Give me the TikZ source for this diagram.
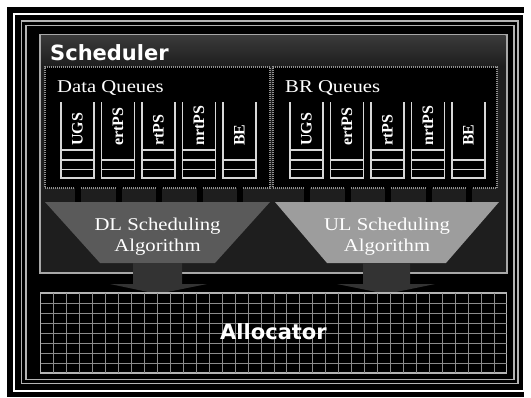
\documentclass[tikz,border=0pt]{standalone}
\usepackage{fontspec}
\setmainfont{Liberation Serif}
\newfontfamily\titlefont{DejaVu Sans}
\definecolor{qcol}{HTML}{D8D8D8}
\definecolor{framegray}{HTML}{B4B4B4}
\definecolor{schedborder}{HTML}{A8A8A8}
\definecolor{dotcol}{HTML}{909090}
\definecolor{dlfill}{HTML}{5A5A5A}
\definecolor{ulfill}{HTML}{9D9D9D}
\definecolor{arrowfill}{HTML}{333333}
\definecolor{gridcol}{HTML}{8C8C8C}
\definecolor{schedfill}{HTML}{1E1E1E}
\definecolor{titletop}{HTML}{3A3A3A}
\begin{document}
\begin{tikzpicture}[x=1pt,y=-1pt,
  qline/.style={draw=qcol, line width=1.8pt},
  dotbox/.style={draw=dotcol, line width=1.1pt, dash pattern=on 1pt off 1pt, fill=black},
  serift/.style={text=white, font=\fontsize{18}{21}\selectfont, xscale=1.15, inner sep=0pt},
  collab/.style={text=white, font=\bfseries\fontsize{16}{18}\selectfont, rotate=90, anchor=west, inner sep=0pt},
  sanst/.style={text=white, font=\titlefont\bfseries\fontsize{21}{24}\selectfont, inner sep=0pt},
  blockarrow/.style={fill=arrowfill}
]
\useasboundingbox (0,0) rectangle (531,397);
\fill[white] (0,0) rectangle (531,397);
\fill[black] (7,7) rectangle (524,397);
\draw[white, line width=2.2pt] (14,14) rectangle (524.5,391);
\draw[framegray, line width=1.5pt] (21.5,21) rectangle (518,383.5);
\draw[framegray, line width=1.5pt] (26,25.5) rectangle (514,379.5);

% scheduler box
\node[draw=schedborder, line width=2pt, fill=schedfill, inner sep=0pt, outer sep=0pt,
      minimum width=466.5pt, minimum height=238.5pt] (sched) at (273.25,153.75) {};
\shade[top color=titletop, bottom color=schedfill] (41,35.5) rectangle (505.5,66);
\node[sanst, anchor=base west] (schedtitle) at (50,60) {Scheduler};

% queue boxes
\node[dotbox, inner sep=0pt, minimum width=225pt, minimum height=121pt] (dq) at (157.5,127.5) {};
\node[dotbox, inner sep=0pt, minimum width=224pt, minimum height=121pt] (brq) at (385,127.5) {};
\node[serift, anchor=base west] (dqlab) at (57,92.5) {Data Queues};
\node[serift, anchor=base west] (brqlab) at (285,92.5) {BR Queues};

% columns
\foreach \base/\pre in {61/d, 290/b}{
  \foreach \i/\lab/\n in {0/UGS/4, 1/ertPS/3, 2/rtPS/4, 3/nrtPS/4, 4/BE/3}{
    \pgfmathsetmacro{\L}{\base+40.5*\i}
    \pgfmathsetmacro{\R}{\L+33}
    \pgfmathsetmacro{\C}{\L+16.5}
    \draw[qline] (\L,102) -- (\L,178) -- (\R,178) -- (\R,102);
    \draw[qline] (\L,169.5) -- (\R,169.5);
    \draw[qline] (\L,160) -- (\R,160);
    \ifnum\n=4 \draw[qline] (\L,150) -- (\R,150); \fi
    \node[collab] (\pre col\i) at (\C,146) {\lab};
    \fill[black] (\C-2.5,179) rectangle (\C+3.5,201.5);
  }
}

% scheduling trapezoids
\fill[dlfill] (45,202) -- (270,202) -- (215,263) -- (100,263) -- cycle;
\fill[ulfill] (275,202) -- (499,202) -- (446,263) -- (327,263) -- cycle;
\node[serift, anchor=base] (dl1) at (157.5,230) {DL Scheduling};
\node[serift, anchor=base] (dl2) at (157.5,251) {Algorithm};
\node[serift, anchor=base] (ul1) at (387,230) {UL Scheduling};
\node[serift, anchor=base] (ul2) at (387,251) {Algorithm};

% block arrows
\fill[blockarrow] (133,263) -- (182,263) -- (182,284) -- (207,284) -- (157.5,294) -- (110,284) -- (133,284) -- cycle;
\fill[blockarrow] (363,263) -- (410,263) -- (410,284) -- (435,284) -- (386.5,294) -- (337,284) -- (363,284) -- cycle;

% allocator
\node[draw=framegray, line width=1.5pt, fill=black, inner sep=0pt, outer sep=0pt,
      minimum width=466pt, minimum height=80pt] (alloc) at (273.5,333) {};
\foreach \k in {1,...,35}{
  \draw[gridcol, line width=0.9pt] (40.5+12.97*\k,293) -- (40.5+12.97*\k,373);
}
\foreach \k in {1,...,7}{
  \draw[gridcol, line width=0.9pt] (40.5,293+10*\k) -- (506.5,293+10*\k);
}
\node[sanst, anchor=base] (alloclab) at (273.5,339) {Allocator};
\end{tikzpicture}
\end{document}
